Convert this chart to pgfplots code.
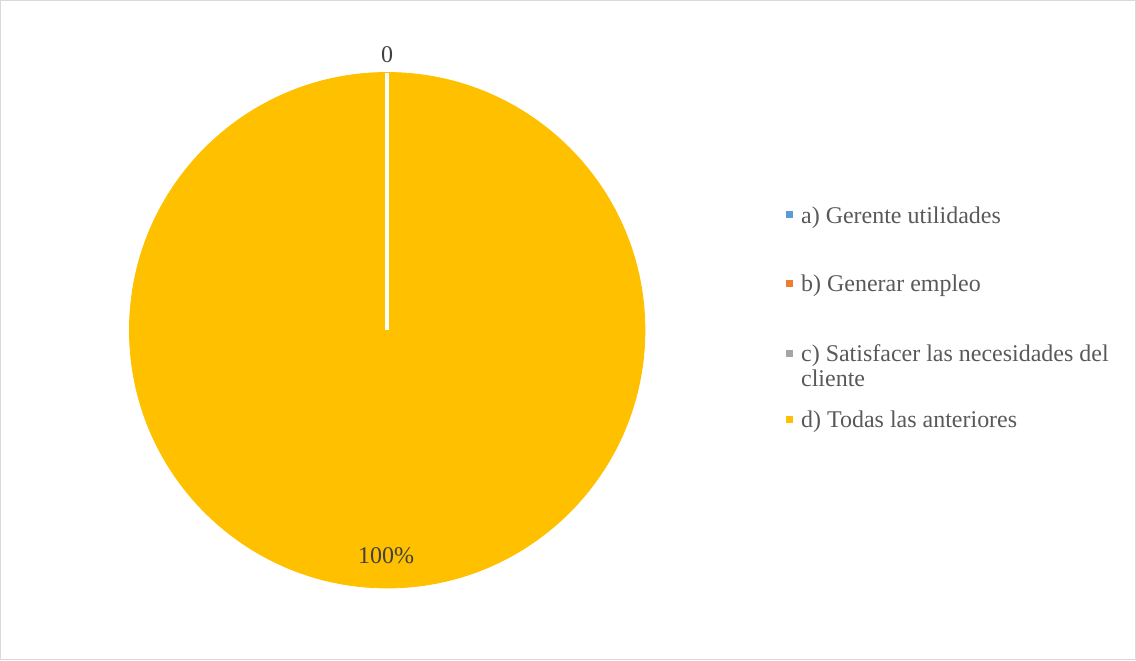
\documentclass[border=0pt]{standalone}
\usepackage{pgfplots}
\pgfplotsset{compat=1.18}
\usepackage{fontspec}
\setmainfont{Liberation Serif}
\definecolor{pa}{HTML}{5B9BD5}
\definecolor{pb}{HTML}{ED7D31}
\definecolor{pc}{HTML}{A5A5A5}
\definecolor{pd}{HTML}{FFC000}
\definecolor{txt}{HTML}{595959}
\definecolor{lbl}{HTML}{404040}
\newcommand{\lf}{\fontsize{12}{14}\selectfont}
\begin{document}
\begin{tikzpicture}
\begin{axis}[
  set layers=standard,
  x=1pt, y=1pt,
  xmin=0, xmax=568, ymin=0, ymax=330,
  axis lines=box, ticks=none,
  axis line style={draw=black!15, line width=0.6pt},
  clip=false,
]
% pie: d) Todas las anteriores = 100% (a, b, c = 0)
\addplot[on layer=axis background, mark layer=axis background,
  only marks, mark=*, mark size=129pt, color=pd, mark options={draw=none, fill=pd}]
  coordinates {(193.5,165)};
% slice boundary at 0 degrees (zero-sized slices)
\addplot[white, line width=2pt] coordinates {(193.5,165) (193.5,294)};
% data labels
\node[anchor=base, text=lbl, font=\lf] at (axis cs:193.5,299.2) {0};
\node[anchor=base, text=lbl, font=\lf] at (axis cs:193,48.3) {100\%};
% legend
\addplot[only marks, mark=square*, mark size=1.5pt, color=pa] coordinates {(395,222.9)};
\addplot[only marks, mark=square*, mark size=1.5pt, color=pb] coordinates {(395,188.4)};
\addplot[only marks, mark=square*, mark size=1.5pt, color=pc] coordinates {(395,153.4)};
\addplot[only marks, mark=square*, mark size=1.5pt, color=pd] coordinates {(395,120.6)};
\node[anchor=base west, text=txt, inner sep=0pt, font=\lf] at (axis cs:400.5,218.65) {a) Gerente utilidades};
\node[anchor=base west, text=txt, inner sep=0pt, font=\lf] at (axis cs:400.5,184.15) {b) Generar empleo};
\node[anchor=base west, text=txt, inner sep=0pt, font=\lf] at (axis cs:400.5,149.15) {c) Satisfacer las necesidades del};
\node[anchor=base west, text=txt, inner sep=0pt, font=\lf] at (axis cs:400.5,136.65) {cliente};
\node[anchor=base west, text=txt, inner sep=0pt, font=\lf] at (axis cs:400.5,116.35) {d) Todas las anteriores};
\end{axis}
\end{tikzpicture}
\end{document}
